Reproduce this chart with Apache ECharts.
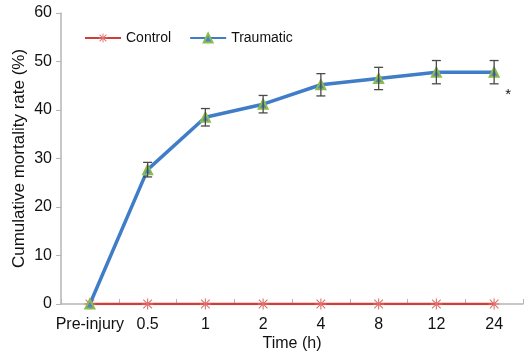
<!DOCTYPE html>
<html><head><meta charset="utf-8">
<script src="https://cdn.jsdelivr.net/npm/echarts@6/dist/echarts.min.js"></script>
<style>html,body{margin:0;padding:0;background:#fff}#c{width:525px;height:355px}</style>
</head><body><div id="c"></div>
<script>
const categories = ['Pre-injury','0.5','1','2','4','8','12','24'];
const controlValues = [0,0,0,0,0,0,0,0];
const traumaticValues = [0,27.7,38.5,41.2,45.2,46.5,47.8,47.8];
const traumaticErr = [0,1.5,1.8,1.8,2.3,2.3,2.4,2.4];
const yTicks = [0,10,20,30,40,50,60];
const significance = '*';

const F = 'Liberation Sans, Arial, Helvetica, sans-serif';
const asterisk = 'path://M0 9H20V11H0Z M9 0H11V20H9Z M2.9 1.5L18.5 17.1L17.1 18.5L1.5 2.9Z M17.1 1.5L18.5 2.9L2.9 18.5L1.5 17.1Z';
const errData = traumaticValues.map((v,i)=>[i, v-traumaticErr[i], v+traumaticErr[i]]).filter((d,i)=>traumaticErr[i]>0);

const chart = echarts.init(document.getElementById('c'));
chart.setOption({
  animation:false,
  textStyle:{fontFamily:F},
  grid:{left:61,right:2,top:13,bottom:51,outerBoundsMode:'none',containLabel:false},
  legend:{
    left:79, top:26, itemWidth:36, itemHeight:11, itemGap:18,
    textStyle:{fontFamily:F,fontSize:14,color:'#111'},
    data:['Control','Traumatic']
  },
  xAxis:{
    type:'category', data:categories, boundaryGap:true,
    name:'Time (h)', nameLocation:'middle', nameGap:32, nameMoveOverlap:false,
    nameTextStyle:{fontFamily:F,fontSize:16,color:'#111'},
    axisLine:{lineStyle:{color:'#b5b5b5',width:1.5}},
    axisTick:{show:true,inside:true,length:5,lineStyle:{color:'#b5b5b5'}},
    axisLabel:{fontFamily:F,fontSize:16,color:'#111',margin:13,interval:0}
  },
  yAxis:{
    type:'value', min:yTicks[0], max:yTicks[yTicks.length-1], interval:10,
    name:'Cumulative mortality rate (%)', nameLocation:'middle', nameGap:33, nameMoveOverlap:false,
    nameTextStyle:{fontFamily:F,fontSize:17,color:'#111'},
    axisLine:{show:true,lineStyle:{color:'#b5b5b5',width:1.5}},
    axisTick:{show:true,length:5,lineStyle:{color:'#b5b5b5'}},
    axisLabel:{fontFamily:F,fontSize:16,color:'#111',margin:9},
    splitLine:{show:false}
  },
  series:[
    {
      name:'Control', type:'line', data:controlValues,
      symbol:asterisk, symbolSize:11,
      lineStyle:{color:'#cf3f3a',width:2.5},
      itemStyle:{color:'#e0706c'},
      z:3
    },
    {
      name:'Traumatic', type:'line', data:traumaticValues,
      symbol:'triangle', symbolSize:9,
      lineStyle:{color:'#3f7dc8',width:3.5},
      itemStyle:{color:'#4b86c6',borderColor:'#8dbb4c',borderWidth:2},
      z:4,
      markPoint:{
        symbol:'circle', symbolSize:0,
        data:[{coord:[categories.length-1, traumaticValues[traumaticValues.length-1]]}],
        label:{show:true,formatter:significance,offset:[14,23],fontSize:15,color:'#111',fontFamily:F}
      }
    },
    {
      name:'err', type:'custom', data:errData, z:10,
      renderItem:function(params, api){
        const x = api.value(0);
        const lo = api.coord([x, api.value(1)]);
        const hi = api.coord([x, api.value(2)]);
        const w = 4.5;
        const st = {stroke:'#4a4a4a', lineWidth:1.3};
        return {type:'group', children:[
          {type:'line', shape:{x1:lo[0],y1:lo[1],x2:hi[0],y2:hi[1]}, style:st},
          {type:'line', shape:{x1:lo[0]-w,y1:lo[1],x2:lo[0]+w,y2:lo[1]}, style:st},
          {type:'line', shape:{x1:hi[0]-w,y1:hi[1],x2:hi[0]+w,y2:hi[1]}, style:st}
        ]};
      },
      encode:{x:0,y:[1,2]}
    }
  ]
});
</script></body></html>
